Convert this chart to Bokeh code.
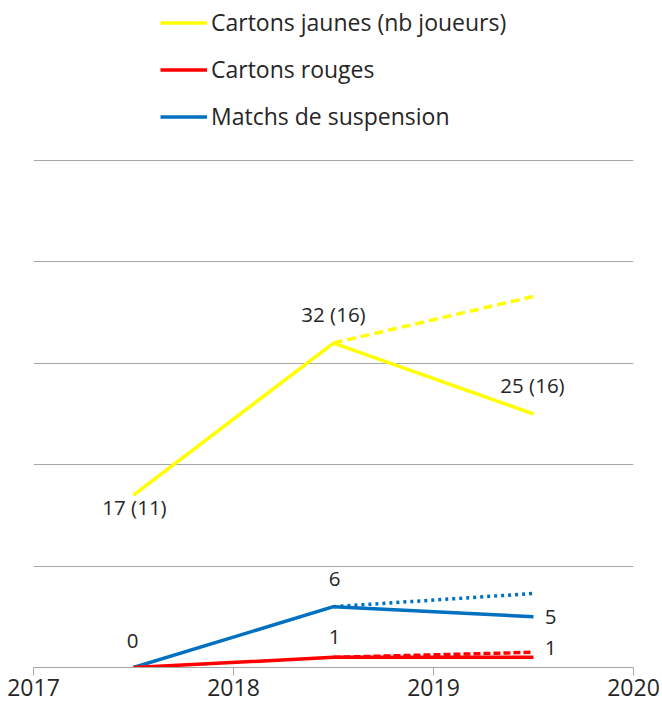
from bokeh.plotting import figure
from bokeh.models import Range1d, FixedTicker, Legend, LegendItem
from bokeh.embed import file_html
from bokeh.resources import INLINE
from bokeh.core.properties import value

# ---- data ----
years = [2017.5, 2018.5, 2019.5]
jaunes = [17, 32, 25]
joueurs = [11, 16, 16]
rouges = [0, 1, 1]
suspension = [0, 6, 5]

proj_years = [2018.5, 2019.5]
jaunes_proj = [32, 36.6]
rouges_proj = [1, 1.5]
suspension_proj = [6, 7.3]

x_ticks = [2017, 2018, 2019, 2020]
y_grid = [0, 10, 20, 30, 40, 50]

labels = ["Cartons jaunes (nb joueurs)", "Cartons rouges", "Matchs de suspension"]

YELLOW = "#FFFF00"
RED = "#FF0000"
BLUE = "#0070C0"
TXT = "#262626"
GRID = "#A6A6A6"
FONT = "Open Sans"

p = figure(frame_width=600, frame_height=667,
           x_range=Range1d(2017, 2020), y_range=Range1d(0, 65.78),
           output_backend="svg", toolbar_location=None,
           min_border_left=33, min_border_right=29, min_border_top=0,
           min_border_bottom=43)
p.outline_line_color = None
p.background_fill_color = "white"

p.xgrid.visible = False
p.ygrid.ticker = FixedTicker(ticks=y_grid)
p.ygrid.grid_line_color = GRID
p.ygrid.grid_line_width = 1
p.yaxis.visible = False

xa = p.xaxis[0]
xa.ticker = FixedTicker(ticks=x_ticks)
xa.axis_line_color = GRID
xa.major_tick_line_color = GRID
xa.major_tick_in = 0
xa.major_tick_out = 8
xa.minor_tick_line_color = None
xa.major_label_text_font = FONT
xa.major_label_text_font_size = "23px"
xa.major_label_text_color = TXT
xa.major_label_standoff = 3

# projections (behind)
p.line(proj_years, jaunes_proj, line_color=YELLOW, line_width=3.5, line_dash="9 5")
p.line(proj_years, suspension_proj, line_color=BLUE, line_width=3.5, line_dash="3 4")
p.line(proj_years, rouges_proj, line_color=RED, line_width=3.5, line_dash="7 3")

r_j = p.line(years, jaunes, line_color=YELLOW, line_width=3.5)
r_s = p.line(years, suspension, line_color=BLUE, line_width=3.5)
r_r = p.line(years, rouges, line_color=RED, line_width=3.5)

# labels
common = dict(text_align="center", text_baseline="middle", text_font=value(FONT),
              text_font_size="20.5px", text_color=TXT)

jl = [f"{j} ({n})" for j, n in zip(jaunes, joueurs)]
p.text(x=years, y=jaunes, text=jl, x_offset=[1, 0, -1], y_offset=[12, -29, -29], **common)

sl = [str(v) for v in suspension]
p.text(x=years, y=suspension, text=sl, x_offset=[-1, 1, 17], y_offset=[-27, -28, 0], **common)

rl = [str(v) for v in rouges[1:]]
p.text(x=years[1:], y=rouges[1:], text=rl, x_offset=[1, 17], y_offset=[-20, -9], **common)

legend = Legend(items=[LegendItem(label=labels[0], renderers=[r_j]),
                       LegendItem(label=labels[1], renderers=[r_r]),
                       LegendItem(label=labels[2], renderers=[r_s])],
                location=(127, 535), orientation="vertical",
                glyph_width=47, glyph_height=31, label_height=31,
                label_standoff=4, spacing=15, padding=0, margin=0,
                border_line_alpha=0, background_fill_alpha=0,
                label_text_font=FONT, label_text_font_size="23px",
                label_text_color=TXT)
p.add_layout(legend)

open("out.html", "w").write(file_html(p, INLINE))
